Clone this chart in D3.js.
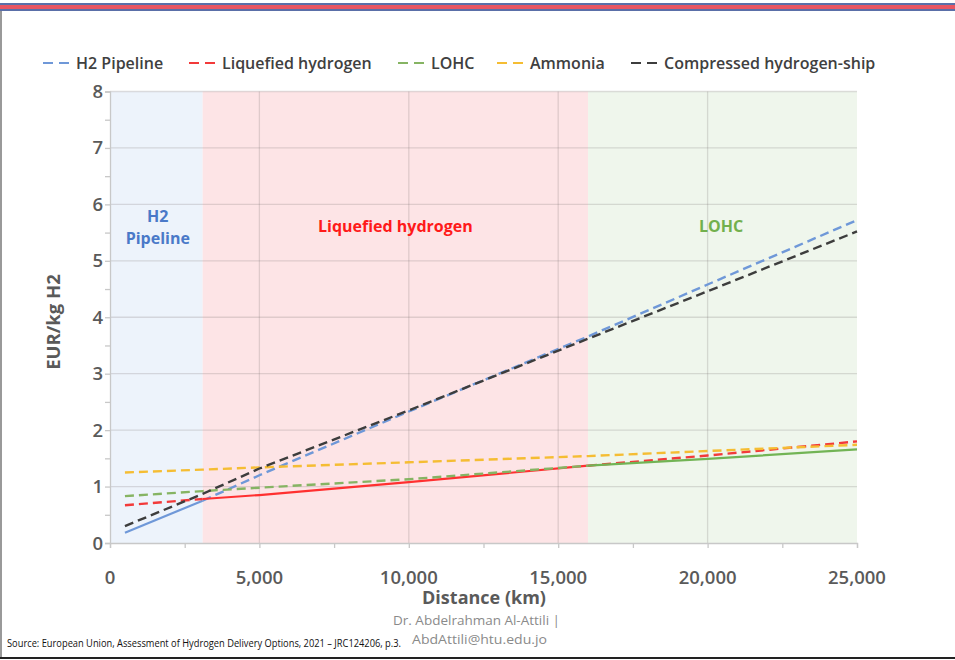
<!DOCTYPE html>
<html>
<head>
<meta charset="utf-8">
<script src="https://cdn.jsdelivr.net/npm/d3@7"></script>
<style>
  html, body { margin: 0; padding: 0; background: #fff; }
  svg { display: block; }
  text { font-family: "Open Sans", "Lato", sans-serif; }
</style>
</head>
<body>
<svg id="chart" width="955" height="660"></svg>
<script>
// ---------- data ----------
const distances = [500, 3100, 5000, 10000, 16000, 20000, 25000];
const seriesNames = ["H2 Pipeline", "Liquefied hydrogen", "LOHC", "Ammonia", "Compressed hydrogen-ship"];
const h2Pipeline = [0.18, 0.75, 1.20, 2.33, 3.66, 4.58, 5.72];
const liquefiedHydrogen = [0.67, 0.78, 0.85, 1.08, 1.37, 1.55, 1.80];
const lohc = [0.83, 0.92, 0.98, 1.13, 1.37, 1.49, 1.66];
const ammonia = [1.25, 1.30, 1.34, 1.43, 1.54, 1.63, 1.74];
const compressedShip = [0.30, 0.87, 1.32, 2.35, 3.62, 4.46, 5.52];
const regionLabels = [["H2", "Pipeline"], ["Liquefied hydrogen"], ["LOHC"]];
const regionBounds = [0, 3100, 16000, 25000];
const regionWinner = ["H2 Pipeline", "Liquefied hydrogen", "LOHC"];
const xTicks = [0, 5000, 10000, 15000, 20000, 25000];
const yTicks = [0, 1, 2, 3, 4, 5, 6, 7, 8];
const xTitle = "Distance (km)";
const yTitle = "EUR/kg H2";
const footerLines = ["Dr. Abdelrahman Al-Attili |", "AbdAttili@htu.edu.jo"];
const sourceText = "Source: European Union, Assessment of Hydrogen Delivery Options, 2021 \u2013 JRC124206, p.3.";

// ---------- styles ----------
const seriesValues = [h2Pipeline, liquefiedHydrogen, lohc, ammonia, compressedShip];
const seriesColors = ["#6f98d8", "#f23a3a", "#86b463", "#f5bd33", "#3d3d3d"];
const solidColors = ["#6f98d8", "#ff3030", "#72b455", "#f5bd33", "#3d3d3d"];
const regionFills = ["#edf3fb", "#fde4e6", "#eff6ec"];
const regionTextColors = ["#4a79c8", "#ff1a1a", "#72b04d"];

const svg = d3.select("#chart");

// slide decorations
svg.append("rect").attr("x", 0).attr("y", 3).attr("width", 955).attr("height", 8).attr("fill", "#5a6fa8");
svg.append("rect").attr("x", 0).attr("y", 5).attr("width", 955).attr("height", 4).attr("fill", "#e85561");
svg.append("line").attr("x1", 1).attr("x2", 1).attr("y1", 11).attr("y2", 658).attr("stroke", "#777").attr("stroke-width", 1.5);
svg.append("line").attr("x1", 0).attr("x2", 955).attr("y1", 658).attr("y2", 658).attr("stroke", "#222").attr("stroke-width", 2);

const pLeft = 110, pRight = 857, pTop = 91.5, pBottom = 543;
const x = d3.scaleLinear().domain([0, 25000]).range([pLeft, pRight]);
const y = d3.scaleLinear().domain([0, 8]).range([pBottom, pTop]);

// regions
const g = svg.append("g");
regionLabels.forEach((lab, i) => {
  g.append("rect")
    .attr("x", x(regionBounds[i])).attr("y", y(8))
    .attr("width", x(regionBounds[i + 1]) - x(regionBounds[i]))
    .attr("height", y(0) - y(8))
    .attr("fill", regionFills[i]);
});

// grid
const gridColor = "rgba(120,110,110,0.22)";
g.selectAll(".hgrid").data(yTicks.filter(d => d > 0)).enter().append("line")
  .attr("x1", pLeft).attr("x2", pRight)
  .attr("y1", d => y(d)).attr("y2", d => y(d))
  .attr("stroke", gridColor).attr("stroke-width", 1.3);
g.selectAll(".vgrid").data(xTicks.filter(d => d > 0 && d < 25000)).enter().append("line")
  .attr("y1", pTop).attr("y2", pBottom)
  .attr("x1", d => x(d)).attr("x2", d => x(d))
  .attr("stroke", gridColor).attr("stroke-width", 1.3);

// axes
const axisColor = "#c8c8c8";
const xAxis = d3.axisBottom(x).tickValues(d3.range(0, 25001, 2500)).tickSize(5).tickFormat("");
const xa = svg.append("g").attr("transform", `translate(0,${pBottom})`).call(xAxis);
xa.select(".domain").attr("stroke", axisColor).attr("stroke-width", 1.3);
xa.selectAll(".tick line").attr("stroke", axisColor).attr("stroke-width", 1.3);
const yAxis = d3.axisLeft(y).tickValues(d3.range(0, 8.01, 0.5)).tickSize(5).tickFormat("");
const ya = svg.append("g").attr("transform", `translate(${pLeft},0)`).call(yAxis);
ya.select(".domain").attr("stroke", axisColor).attr("stroke-width", 1.3);
ya.selectAll(".tick line").attr("stroke", axisColor).attr("stroke-width", 1.3);

const fmt = d3.format(",");
svg.selectAll(".xt").data(xTicks).enter().append("text")
  .attr("x", d => x(d)).attr("y", 584)
  .attr("text-anchor", "middle")
  .attr("font-size", 18.5).attr("font-weight", 600).attr("fill", "#5a5a5a")
  .text(d => fmt(d));
svg.selectAll(".yt").data(yTicks).enter().append("text")
  .attr("x", 103).attr("y", d => y(d) + 6.5)
  .attr("text-anchor", "end")
  .attr("font-size", 18.5).attr("font-weight", 600).attr("fill", "#5a5a5a")
  .text(d => d);

svg.append("text").attr("x", 484).attr("y", 604).attr("text-anchor", "middle")
  .attr("font-size", 18).attr("font-weight", 700).attr("fill", "#5a5a5a").text(xTitle);
svg.append("text").attr("transform", `translate(60,322) rotate(-90)`).attr("text-anchor", "middle")
  .attr("font-size", 18.5).attr("font-weight", 700).attr("fill", "#5a5a5a").text(yTitle);

// region labels
regionLabels.forEach((lab, i) => {
  const cx = i === 0 ? x(1600) : (i === 1 ? x(9550) : x(20450));
  const cy0 = i === 0 ? 222 : 232;
  lab.forEach((t, j) => {
    svg.append("text").attr("x", cx).attr("y", cy0 + j * 22)
      .attr("text-anchor", "middle").attr("font-size", 16).attr("font-weight", 700)
      .attr("fill", regionTextColors[i]).text(t);
  });
});

// lines
const line = d3.line().x(d => x(d[0])).y(d => y(d[1]));
const dash = "9,5";
seriesNames.forEach((name, i) => {
  const pts = distances.map((d, k) => [d, seriesValues[i][k]]);
  const r = regionWinner.indexOf(name);
  if (r < 0) {
    svg.append("path").attr("d", line(pts)).attr("fill", "none")
      .attr("stroke", seriesColors[i]).attr("stroke-width", 2.4).attr("stroke-dasharray", dash);
  } else {
    const a = regionBounds[r], b = regionBounds[r + 1];
    const leftPts = pts.filter(p => p[0] <= a);
    const rightPts = pts.filter(p => p[0] >= b);
    const mid = pts.filter(p => p[0] >= a && p[0] <= b);
    [leftPts, rightPts].forEach(seg => {
      if (seg.length > 1) svg.append("path").attr("d", line(seg)).attr("fill", "none")
        .attr("stroke", seriesColors[i]).attr("stroke-width", 2.4).attr("stroke-dasharray", dash);
    });
    svg.append("path").attr("d", line(mid)).attr("fill", "none")
      .attr("stroke", solidColors[i]).attr("stroke-width", 2.2);
  }
});

// legend
const legendX = [43, 189, 398, 497, 631];
seriesNames.forEach((name, i) => {
  const lg = svg.append("g").attr("transform", `translate(${legendX[i]},63)`);
  lg.append("line").attr("x1", 0).attr("x2", 31).attr("y1", 0).attr("y2", 0)
    .attr("stroke", seriesColors[i]).attr("stroke-width", 2).attr("stroke-dasharray", "10,6");
  lg.append("text").attr("x", 33).attr("y", 5.5).attr("font-size", 16).attr("font-weight", 600)
    .attr("fill", "#404040").text(name);
});

// footer
svg.append("text").attr("x", 476.5).attr("y", 625).attr("text-anchor", "middle")
  .attr("font-size", 13.5).attr("fill", "#8a8a8a")
  .attr("textLength", 167).attr("lengthAdjust", "spacingAndGlyphs").text(footerLines[0]);
svg.append("text").attr("x", 479.5).attr("y", 644).attr("text-anchor", "middle")
  .attr("font-size", 13.5).attr("fill", "#8a8a8a")
  .attr("textLength", 135).attr("lengthAdjust", "spacingAndGlyphs").text(footerLines[1]);
svg.append("text").attr("x", 7).attr("y", 647)
  .attr("font-size", 10).attr("fill", "#111")
  .attr("textLength", 394).attr("lengthAdjust", "spacingAndGlyphs").text(sourceText);
</script>
</body>
</html>
